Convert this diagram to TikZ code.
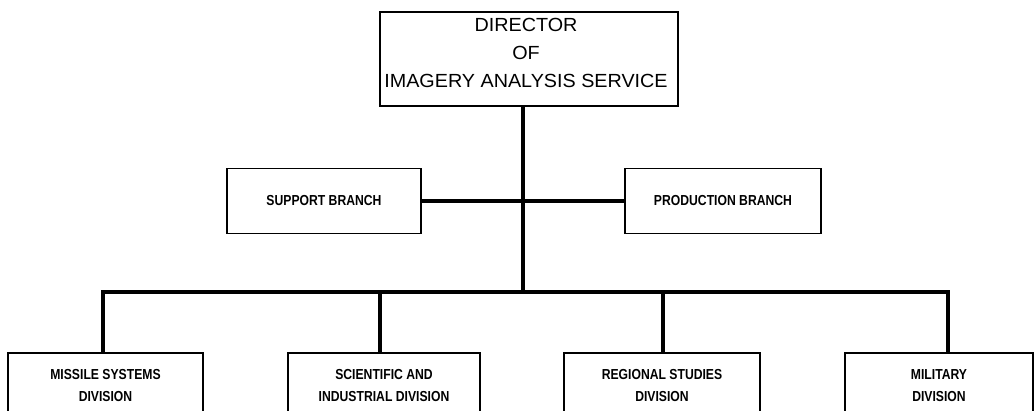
\documentclass[tikz,border=0pt]{standalone}
\usepackage{fontspec}
\setmainfont{Liberation Sans}
\newfontfamily\headfont[FakeStretch=1.04]{Liberation Sans}
\newfontfamily\condfont[FakeStretch=0.84]{Liberation Sans Bold}
\begin{document}
\begin{tikzpicture}[x=1pt,y=1pt,
  box/.style={draw=black, line width=1.2pt, fill=white, rectangle, inner sep=0pt},
  unitbox/.style={box, align=center, font=\condfont\fontsize{14.5}{22}\selectfont},
  headtext/.style={align=center, inner sep=0pt, font=\headfont\fontsize{19}{28}\selectfont},
  conn/.style={line width=3.6pt, line cap=butt},
  branchline/.style={line width=3.2pt}]
  \useasboundingbox (0,0) rectangle (1034,-410);
  \clip (0,0) rectangle (1034,-410);

  % head of the service
  \node[box, minimum width=298, minimum height=94] (dir) at (529,-59) {};
  \node[headtext] (dirtext) at (526,-53) {DIRECTOR\\OF\\IMAGERY ANALYSIS SERVICE};

  % branches
  \node[unitbox, minimum width=194, minimum height=65] (sup) at (324,-201) {SUPPORT BRANCH};
  \node[unitbox, minimum width=196, minimum height=65] (prod) at (723,-201) {PRODUCTION BRANCH};

  % divisions
  \node[unitbox, minimum width=195, minimum height=66] (mis) at (105.5,-386) {MISSILE SYSTEMS\\DIVISION};
  \node[unitbox, minimum width=192, minimum height=66] (sci) at (384,-386) {SCIENTIFIC AND\\INDUSTRIAL DIVISION};
  \node[unitbox, minimum width=196, minimum height=66] (reg) at (662,-386) {REGIONAL STUDIES\\DIVISION};
  \node[unitbox, minimum width=188, minimum height=66] (mil) at (939,-386) {MILITARY\\DIVISION};

  % trunk and bus points
  \coordinate (trunk) at (523,-292);
  \coordinate (b1) at (103,-292);
  \coordinate (b2) at (380,-292);
  \coordinate (b3) at (663,-292);
  \coordinate (b4) at (948,-292);

  % connectors
  \draw[branchline] (sup.east) -- (prod.west);
  \draw[conn] (trunk |- dir.south) -- (trunk);
  \draw[conn, line cap=rect] (b1) -- (b4);
  \draw[conn] (b1) -- (b1 |- mis.north);
  \draw[conn] (b2) -- (b2 |- sci.north);
  \draw[conn] (b3) -- (b3 |- reg.north);
  \draw[conn] (b4) -- (b4 |- mil.north);
\end{tikzpicture}
\end{document}
